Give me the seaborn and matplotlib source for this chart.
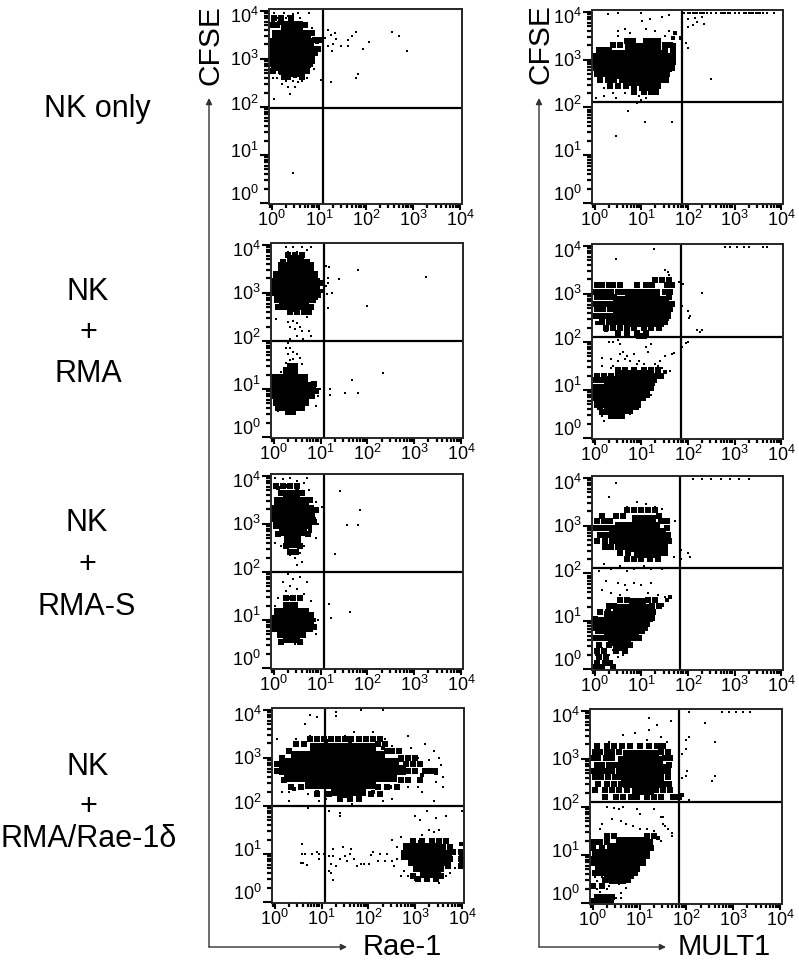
import pandas as pd
import matplotlib
matplotlib.use("Agg")
import matplotlib.pyplot as plt
from matplotlib.ticker import LogLocator, FixedFormatter, FixedLocator, NullFormatter
from matplotlib.transforms import ScaledTranslation
import seaborn as sns

# all values are read off the picture, as log10 of fluorescence
# *_core: dense part of a population, {log y: [log x, ...]}
# *_speck: speckled part, same layout, *_patch / *_dots: small clumps and single events, (log x, log y)

l1_core = {3.68: [.3, .45, .55], 3.5: [.12, .27, .42, .57, .72], 3.33: [.03, .18, .33, .48, .63, .78], 3.16: [0, .15, .3, .45, .6, .75, .87],
           3.0: [0, .15, .3, .45, .6, .75, .82], 2.85: [.12, .27, .42, .57, .68], 2.72: [.35, .5, .6]}
l1_speck = {3.85: [.05, .2, .4], 3.7: [0, .12, .7], 3.55: [.85], 3.4: [.92, 1.0], 3.2: [.98], 2.9: [0, .82], 2.75: [.02, .2, .75], 2.62: [.25, .35, .65]}
l1_patch = [(.02, 3.8), (.15, 3.75), (.8, 3.55), (.95, 3.35), (.93, 3.1), (.03, 2.8), (.2, 2.7), (.5, 2.65), (.6, 2.68), (1.0, 3.42), (.8, 2.85)]
l1_dots = [(.45, .62), (.04, 2.17), (.39, 2.26), (.21, 2.47), (.35, 2.42), (.49, 2.42), (1.26, 2.51), (1.05, 2.57), (1.79, 2.6),
           (1.84, 2.69), (2.87, 3.17), (2.55, 3.56), (2.7, 3.47), (2.06, 3.35), (1.93, 3.21), (1.79, 3.56), (1.7, 3.47), (1.61, 3.39),
           (1.61, 3.26), (1.48, 3.26), (1.37, 3.42), (1.3, 3.31), (1.28, 3.16), (1.2, 3.26), (1.2, 3.61), (1.13, 3.44), (1.26, 3.49),
           (1.35, 3.53), (.05, 3.95), (.25, 3.95), (.35, 3.9), (.55, 3.95), (.8, 3.95), (.1, 3.85), (.3, 3.85), (.45, 3.93), (.7, 3.7),
           (.85, 3.65), (.6, 3.85), (.2, 3.9), (.12, 2.6), (.3, 2.55), (.45, 2.55), (.55, 2.52), (.65, 2.55), (.75, 2.6), (.9, 2.8), (.02, 2.6)]

l2_core = {3.68: [.38, .53], 3.53: [.2, .35, .5, .65, .75], 3.36: [.08, .23, .38, .53, .68, .83], 3.2: [.03, .18, .33, .48, .63, .78, .88],
           3.05: [.03, .18, .33, .48, .63, .78, .88], 2.9: [.12, .27, .42, .57, .72, .8], 2.75: [.25, .4, .55, .65],
           1.35: [.3, .42], 1.2: [.05, .2, .35, .5, .62], 1.05: [-.03, .12, .27, .42, .57, .72, .78], .9: [-.03, .12, .27, .42, .57, .72, .78],
           .75: [.1, .25, .4, .55, .65], .65: [.25, .4, .5]}
l2_speck = {3.8: [.3, .45, .6], 3.65: [.2, .7], 3.2: [0, 1.0], 2.95: [.95], 2.7: [.1, .8], 2.6: [.35, .5, .65, .75], 1.48: [.35, .45], 1.1: [.85], .95: [.9], .6: [.1, .6], .52: [.3, .4]}
l2_patch = [(.05, 3.3), (.95, 3.25), (1.0, 3.05), (.9, 2.9), (.15, 2.8), (.75, 2.7), (.4, 2.65), (.85, 1.05), (.8, .85), (.4, 1.45), (.3, .58), (.5, .58), (.3, 3.8)]
l2_dots = [(3.24, 3.34), (1.8, 3.47), (1.98, 2.73), (1.4, 3.3), (1.16, 2.69), (1.18, 3.53), (1.11, 3.56), (1.15, 3.32), (1.16, 3.2),
           (1.13, 2.97), (1.25, 2.99), (1.11, 3.15), (2.33, 1.33), (1.66, 1.19), (1.52, .92), (1.8, .92), (1.2, 1.01), (1.2, .88),
           (.25, 3.95), (.4, 3.95), (.6, 3.95), (.8, 3.95), (.3, 3.85), (.7, 3.9), (.5, 3.85), (.05, 2.45), (.3, 2.4), (.4, 2.42), (.5, 2.38),
           (.55, 2.3), (.45, 2.25), (.35, 2.3), (.6, 2.2), (.75, 2.2), (.8, 2.1), (.35, 2.05), (.5, 2.1), (.62, 2.05), (.3, 1.95),
           (.35, 1.85), (.25, 1.85), (.4, 1.78), (.3, 1.72), (.5, 1.72), (.55, 1.65), (.35, 1.6), (.42, 1.62), (.25, 1.55), (.6, 1.52),
           (.15, 1.35), (.02, 1.25), (.95, .85), (.98, 1.0), (.9, .65), (.05, .62), (.1, .55), (.4, .5), (.6, 2.6), (.7, 2.5)]

l3_core = {3.6: [.3, .45], 3.45: [.12, .27, .42, .57, .65], 3.3: [.03, .18, .33, .48, .63, .75], 3.15: [.03, .18, .33, .48, .63, .78],
           3.0: [.1, .25, .4, .55, .7], 2.85: [.22, .37, .52, .6], 2.7: [.33, .48], 2.6: [.42], 1.28: [.3, .42], 1.15: [.12, .27, .42, .57, .65],
           1.0: [.03, .18, .33, .48, .63, .75], .85: [.03, .18, .33, .48, .63, .72], .72: [.18, .33, .48, .58], .62: [.3, .45]}
l3_speck = {3.8: [.05, .2, .35, .5], 3.65: [.15, .6], 3.5: [.78], 3.3: [.9], 3.05: [.85], 2.8: [.1, .72], 2.55: [.25, .55], 2.42: [.35, .48], 1.45: [.25, .4, .55], 1.1: [.8], .85: [.85], .55: [.15, .55]}
l3_patch = [(.1, 3.75), (.3, 3.8), (.5, 3.75), (.85, 3.1), (.78, 2.85), (.85, 1.0), (.8, .85), (.35, 1.45), (.35, 2.55), (.5, 2.55)]
l3_dots = [(1.42, 3.69), (1.83, 3.29), (1.57, 2.98), (1.79, 2.98), (1.3, 2.37), (1.62, 1.17), (1.23, 1.04), (1.17, 1.33), (.02, 3.95),
           (.2, 3.93), (.35, 3.95), (.5, 3.9), (.7, 3.95), (.65, 3.85), (.75, 3.7), (.9, 3.45), (.95, 3.25), (1.03, 3.35), (.95, 3.0),
           (.9, 2.7), (.65, 2.55), (.55, 2.4), (.45, 2.3), (.35, 2.35), (.6, 2.2), (.02, 2.6), (.15, 2.55), (.5, 2.15), (.3, 1.95),
           (.4, 1.85), (.55, 1.9), (.7, 1.8), (.2, 1.8), (.35, 1.7), (.5, 1.65), (.25, 1.6), (.65, 1.55), (.1, 1.45), (.95, 1.0),
           (.9, .7), (.2, .55), (.45, .5), (.6, .55), (.02, 1.3), (.8, 1.4)]

l4_core = {3.2: [.85, 1.0, 1.15, 1.3, 1.45, 1.6, 1.75, 1.9, 2.05], 3.05: [.45, .6, .75, .9, 1.05, 1.2, 1.35, 1.5, 1.65, 1.8, 1.95, 2.1, 2.25],
           2.9: [.2, .35, .5, .65, .8, .95, 1.1, 1.25, 1.4, 1.55, 1.7, 1.85, 2, 2.15, 2.3, 2.45, 2.55],
           2.75: [.2, .35, .5, .65, .8, .95, 1.1, 1.25, 1.4, 1.55, 1.7, 1.85, 2, 2.15, 2.3, 2.45, 2.6, 2.7],
           2.6: [.3, .45, .6, .75, .9, 1.05, 1.2, 1.35, 1.5, 1.65, 1.8, 1.95, 2.1, 2.25, 2.4, 2.5], 2.45: [.75, .9, 1.05, 1.2, 1.35, 1.5, 1.65, 1.8, 1.95, 2.05],
           2.32: [1.3, 1.45, 1.6, 1.75, 1.85], 1.12: [2.85, 3.0, 3.15, 3.3, 3.45], .98: [2.8, 2.95, 3.1, 3.25, 3.4, 3.55, 3.68], .85: [2.95, 3.1, 3.25, 3.4, 3.55, 3.65],
           .72: [3.05, 3.2, 3.35, 3.5], .6: [3.2, 3.35, 3.45]}
l4_speck = {3.4: [.75, .9, 1.05, 1.2, 1.35, 1.5, 1.62, 1.8, 1.95, 2.1, 2.25], 3.3: [.45, .62, 2.2, 2.35], 3.15: [.3, 2.4, 2.5, 2.65], 3.0: [.15, 2.7, 2.85, 3.0],
           2.88: [.05, 2.8, 2.95, 3.1], 2.72: [.05, 2.85, 3.0, 3.2, 3.3, 3.42], 2.55: [.2, 2.7, 2.85, 3.1], 2.4: [.35, .55, 2.2, 2.4, 2.6], 2.25: [.9, 1.15, 2.05, 2.25],
           2.15: [1.4, 1.6, 1.8], 1.28: [2.95, 3.15, 3.35, 3.5, 3.65], 1.15: [3.6, 3.75], 1.05: [3.8, 3.98], .9: [3.75, 3.98], .75: [3.7, 3.98], .55: [2.95, 3.55], .48: [3.05, 3.25, 3.45]}
l4_patch = [(.1, 2.7), (1.1, 3.35), (1.6, 3.35), (2.3, 3.2), (2.7, 2.95), (2.8, 2.7), (.4, 2.35), (.9, 2.3), (2.1, 2.3), (2.45, 2.4), (1.5, 2.2),
            (3.98, 1.2), (3.98, 1.0), (3.98, .85), (3.75, .95), (3.1, 1.25), (3.5, 1.22), (3.0, 2.75), (3.15, 2.65), (3.3, 2.7), (3.45, 2.68)]
l4_dots = [(.75, 3.9), (.65, 3.7), (.9, 3.85), (1.3, 3.95), (1.3, 3.88), (1.85, 4.0), (2.3, 4.0), (.05, 3.4), (.45, 3.4), (.75, 3.45), (1.0, 3.35),
           (1.5, 3.45), (1.7, 3.55), (2.1, 3.55), (2.35, 3.4), (2.85, 3.45), (2.5, 3.25), (2.9, 3.2), (3.05, 3.0), (3.2, 3.3), (3.4, 3.15),
           (3.3, 2.95), (3.5, 3.0), (3.55, 2.85), (3.6, 2.6), (3.6, 2.4), (3.45, 2.5), (2.85, 2.4), (3.15, 2.3), (3.4, 2.1), (3.05, 2.4),
           (2.5, 2.15), (2.3, 2.1), (1.65, 2.05), (.3, 2.1), (.15, 2.3), (.3, 2.3), (.7, 2.25), (.95, 2.1), (1.1, 2.15), (.7, 1.95), (1.15, 1.9),
           (1.4, 1.85), (1.4, 1.8), (3.0, 1.8), (3.25, 1.9), (3.45, 1.75), (3.65, 1.8), (4.0, 1.9), (3.1, 1.7), (3.3, 1.5), (3.4, 1.45),
           (3.5, 1.5), (3.15, 1.4), (2.7, 1.35), (2.5, 1.3), (2.4, 1.0), (2.6, 1.15), (.58, 1.2), (.58, 1.0), (.6, .82), (.55, .82), (.68, .78),
           (.65, 1.0), (.8, 1.0), (.9, 1.05), (.95, .9), (.95, 1.0), (1.05, 1.0), (1.15, .95), (1.25, 1.1), (1.25, .95), (1.2, .8), (1.3, .75),
           (1.4, .9), (1.45, 1.15), (1.5, .95), (1.55, .85), (1.6, 1.0), (1.63, 1.1), (1.7, .9), (1.75, .75), (1.85, .8), (1.9, .8), (1.15, .65),
           (1.2, .6), (1.25, .45), (2.02, .8), (2.05, .98), (2.1, 1.05), (2.2, .85), (2.25, 1.0), (2.35, .85), (2.5, .85), (2.55, .75),
           (2.6, .9), (2.75, .65), (2.7, .55), (2.85, .55), (2.95, .5), (3.0, .45), (3.2, .45), (3.45, .45), (3.5, .4), (3.65, .55), (3.75, .6), (3.85, .7)]

r1_core = {3.25: [.75, .9, 1.05, 1.2, 1.32], 3.1: [.4, .55, .7, .85, 1, 1.15, 1.3, 1.42], 2.97: [.3, .45, .6, .75, .9, 1.05, 1.2, 1.35, 1.5, 1.58],
           2.84: [.4, .55, .7, .85, 1, 1.15, 1.3, 1.45, 1.55], 2.7: [.55, .7, .85, 1, 1.15, 1.3, 1.45], 2.56: [.85, 1.0, 1.15, 1.3], 2.45: [1.05, 1.2]}
r1_speck = {3.4: [.7, .82, 1.1, 1.22, 1.35], 3.3: [.4, .55, 1.5, 1.62], 3.2: [.08, .2, .3, 1.5, 1.68], 3.08: [0, .12, .25, 1.58, 1.68], 2.95: [0, .1, .2, 1.68],
           2.82: [.02, .12, .25, 1.65], 2.7: [.05, .18, .3, .42, 1.55], 2.58: [.12, .28, .42, .58, .72, 1.42, 1.52], 2.45: [.32, .5, .68, .85, 1.35], 2.33: [.85, 1.05, 1.2, 1.32]}
r1_patch = [(1.68, 3.45), (1.85, 3.45), (1.7, 3.3), (1.72, 3.55)]
r1_dots = [(1.92, 3.97), (2.0, 3.97), (2.1, 3.97), (2.2, 3.97), (2.3, 3.97), (2.4, 3.97), (2.5, 3.97), (2.6, 3.97), (2.7, 3.97), (2.8, 3.97), (2.9, 3.97),
           (3.0, 3.97), (3.1, 3.97), (3.2, 3.97), (3.3, 3.97), (3.4, 3.97), (3.5, 3.97), (3.6, 3.97), (3.7, 3.97), (3.85, 3.97), (2.05, 3.97), (2.15, 3.97),
           (2.25, 3.97), (2.35, 3.97), (2.75, 3.97), (2.85, 3.97), (3.25, 3.97), (3.35, 3.97), (3.45, 3.97), (3.55, 3.97),
           (.28, 3.95), (.5, 3.97), (.65, 3.65), (1.0, 3.97), (1.02, 3.8), (1.1, 3.65), (1.18, 3.85), (1.45, 3.9), (1.6, 3.93), (1.6, 3.6), (1.3, 3.6),
           (1.5, 3.5), (.5, 3.6), (.5, 3.5), (.75, 3.55), (2.0, 3.85), (2.1, 3.72), (2.15, 3.88), (2.2, 3.78), (2.3, 3.9), (2.35, 3.75), (2.0, 3.68),
           (1.95, 3.35), (2.0, 3.25), (2.5, 2.6), (.72, 1.93), (.2, 2.25), (.4, 2.3), (.45, 2.2), (.2, 2.4), (.65, 2.3), (.95, 2.25), (1.0, 2.15),
           (1.1, 2.2), (.9, 2.1), (1.2, 2.3), (1.25, 2.55), (.03, 2.2), (.45, 1.4), (1.07, 1.7), (1.65, 1.7)]

r2_core = {3.0: [.75, .95, 1.15, 1.3], 2.85: [.5, .7, .9, 1.05, 1.2, 1.35, 1.48], 2.7: [.5, .65, .8, .95, 1.1, 1.25, 1.4, 1.52],
           2.55: [.6, .75, .9, 1.05, 1.2, 1.35, 1.48], 2.42: [.8, 1.0, 1.15, 1.3, 1.38], 1.32: [.55, .7, .85, 1.0, 1.15], 1.18: [.3, .45, .6, .75, .9, 1.05, 1.18],
           1.03: [.02, .15, .3, .45, .6, .75, .9, 1.08], .88: [-.03, .12, .27, .42, .57, .72, .87, 1.0], .73: [.1, .25, .4, .55, .7, .88], .6: [.3, .45, .6, .72], .5: [.4, .55]}
r2_speck = {3.3: [1.3, 1.45, 1.6], 3.18: [.05, .15, .3, .4, .55, .9, 1.1, 1.22, 1.55, 1.65], 3.05: [0, .12, .25, .35, .5, .62, 1.5, 1.62], 2.93: [.05, .18, .3, .42, 1.6], 2.8: [0, .1, .22, .35, 1.65],
            2.68: [.05, .18, .32, 1.62], 2.55: [.02, .12, .25, .38, .48, 1.58], 2.42: [.15, .3, .42, .55, .65, 1.5], 2.3: [.25, .4, .55, .7, .85, 1.05, 1.2, 1.38],
            2.18: [.5, .7, .9, 1.1], 2.12: [.95, .98, 1.05], 1.42: [.5, .65, .85, 1.05, 1.2, 1.35], 1.3: [.05, .2, .35, 1.3, 1.42], 1.2: [.02, .15, 1.28], 1.05: [1.2], .9: [1.12], .65: [.12, .88], .55: [.15, .22]}
r2_patch = [(.25, 2.25), (.05, 2.4), (1.2, 1.35), (1.35, 1.35), (1.5, 1.38)]
r2_dots = [(2.8, 3.97), (2.9, 3.97), (3.05, 3.97), (3.2, 3.97), (3.3, 3.97), (3.6, 3.97), (3.7, 3.97), (1.28, 3.93), (.45, 3.72), (1.88, 2.75), (2.0, 2.65),
           (2.02, 2.5), (2.05, 2.55), (2.3, 2.25), (2.4, 2.1), (2.0, 2.1), (2.3, 3.03), (1.9, 3.2), (1.8, 3.25), (2.25, 2.2), (2.2, 2.25), (1.95, 1.98),
           (2.0, 2.0), (1.87, 1.9), (1.85, 1.8), (1.6, 3.4), (1.5, 3.5), (1.57, 3.45), (1.65, 1.75), (1.7, 1.78), (1.5, 1.7), (1.62, 1.4), (.5, 2.05), (.4, 2.0),
           (.3, 2.0), (.55, 1.95), (.6, 1.8), (.55, 1.75), (.65, 1.65), (.7, 1.7), (.85, 1.75), (.95, 1.6), (1.05, 1.55), (1.2, 1.95), (1.15, 1.8), (1.1, 1.9),
           (.15, 1.67), (.15, 1.5), (.35, 1.65), (.4, 1.5), (.35, 1.45), (.5, 1.6), (.75, 1.6), (.9, 1.55), (1.35, 1.5), (1.45, 1.45), (1.3, 1.55),
           (1.4, 1.6), (.2, .5), (.15, .45), (.2, .35), (.45, .45), (.75, .5), (1.2, .9), (1.25, 1.1)]

r3_core = {3.12: [.9, 1.05, 1.2], 2.98: [.55, .7, .85, 1.0, 1.15, 1.3], 2.84: [.42, .57, .72, .87, 1.02, 1.17, 1.32, 1.42], 2.7: [.55, .7, .85, 1.0, 1.15, 1.3, 1.45],
           2.56: [.75, .9, 1.05, 1.2, 1.35], 2.42: [.95, 1.1, 1.25], 1.38: [.85, 1.0], 1.25: [.5, .65, .8, .95, 1.1], 1.12: [.3, .45, .6, .75, .9, 1.05, 1.18],
           .98: [.05, .2, .35, .5, .65, .8, .95, 1.08], .84: [.12, .27, .42, .57, .72, .87, .97], .7: [.3, .45, .6, .75, .85], .58: [.4, .55, .68], .48: [.5, .6]}
r3_speck = {3.32: [.7, .85, 1.0, 1.15, 1.3], 3.2: [.15, .45, .6, 1.38], 3.1: [.05, .2, .32, 1.42, 1.55], 2.95: [.02, .15, .28, .4, 1.55], 2.8: [.12, .25, 1.58], 2.68: [.05, .22, .38, 1.6],
            2.55: [.22, .35, .5, .62, 1.5], 2.42: [.55, .72, 1.4, 1.5], 2.3: [.7, .85, 1.0, 1.18, 1.35], 1.45: [.55, .7, 1.15, 1.3], 1.32: [.3, .42, 1.22, 1.38], 1.2: [.12, .28, 1.25], 1.05: [.0, 1.18],
            .85: [0, 1.08], .65: [.02, .15, .95], .5: [.1, .3, .75], .38: [.05, .2, .45, .65], .25: [.1, .25], .12: [.05, .22, .32], .05: [.02, .15, .4]}
r3_patch = [(1.25, 1.35), (1.45, 1.35), (1.55, 1.45), (1.62, 1.5)]
r3_dots = [(2.1, 3.97), (2.3, 3.97), (2.5, 3.97), (2.7, 3.97), (2.9, 3.97), (3.1, 3.97), (3.3, 3.97), (1.85, 2.5), (1.85, 2.3), (2.0, 2.42), (2.05, 2.35),
           (1.7, 2.35), (1.72, 3.1), (.7, 3.4), (.9, 3.5), (1.1, 3.45), (.45, 3.9), (.3, 3.6), (1.3, 3.4), (1.45, 3.35), (.2, 2.2), (.35, 2.1), (.55, 2.15),
           (.7, 2.05), (.85, 2.1), (1.05, 2.15), (1.2, 2.1), (1.45, 2.1), (.1, 2.05), (.25, 1.85), (.5, 1.8), (.65, 1.75), (.85, 1.8), (1.0, 1.75), (1.2, 1.8),
           (.15, 1.65), (.35, 1.6), (.55, 1.55), (.7, 1.65), (1.15, 1.6), (1.35, 1.55), (1.5, 1.5), (.02, .8), (.05, .6), (.02, .3), (.1, .55), (.15, .45),
           (.25, .4), (.3, .3), (.25, .1), (.02, .1), (.4, .4), (.5, .25), (.6, .3), (.1, .08), (.35, .15)]

r4_core = {3.08: [.75, .9, 1.05, 1.2, 1.3], 2.95: [.65, .8, .95, 1.1, 1.25, 1.4], 2.8: [.6, .75, .9, 1.05, 1.2, 1.35, 1.5], 2.65: [.7, .85, 1.0, 1.15, 1.3, 1.42],
           2.5: [.75, .95, 1.1, 1.25, 1.35], 2.36: [.95, 1.1, 1.2], 1.28: [.6, .75, .9, 1.05], 1.15: [.4, .55, .7, .85, 1.0, 1.12],
           1.02: [.1, .25, .4, .55, .7, .85, 1.0, 1.12], .88: [-.02, .12, .27, .42, .57, .72, .87, 1.02], .74: [.15, .3, .45, .6, .75, .9], .6: [.35, .5, .65, .78], .5: [.45, .6]}
r4_speck = {3.28: [.1, .3, .45, .62, .8, 1.0, 1.2, 1.38, 1.5], 3.15: [.05, .15, .3, .42, .55, 1.45, 1.6], 3.02: [.02, .12, .28, .42, 1.55, 1.65], 2.88: [.08, .2, .35, .48, 1.62], 2.75: [.02, .15, .28, .42, 1.6],
            2.62: [.05, .18, .32, .48, .58, 1.6], 2.48: [.12, .3, .45, .6, 1.5, 1.62], 2.35: [.05, .25, .42, .55, .72, 1.35, 1.5, 1.65], 2.2: [.25, .5, .65, .82, .95, 1.15, 1.3, 1.45, 1.72, 1.85],
            1.4: [.3, .45, 1.15, 1.3], 1.28: [.02, .15, .3, 1.22], 1.15: [0, .2, 1.25], .62: [.05, .18, .9], .48: [.25, .38, .75], .35: [.0, .2], .12: [.1, .2, .3, .42], .05: [0, .12, .22, .32, .38]}
r4_patch = [(1.75, 2.2), (1.9, 2.25), (1.4, 1.35)]
r4_dots = [(1.2, 3.85), (1.38, 3.7), (1.67, 3.8), (2.05, 3.97), (2.75, 3.97), (2.9, 3.97), (3.05, 3.97), (3.2, 3.97), (3.35, 3.97), (2.4, 3.75), (2.6, 3.35),
           (2.55, 2.55), (2.6, 2.65), (2.0, 3.4), (2.05, 3.45), (1.85, 3.35), (2.0, 3.2), (1.9, 3.1), (2.02, 2.75), (2.0, 2.65), (1.9, 2.6), (2.05, 2.15),
           (1.85, 2.2), (.65, 3.5), (.75, 3.3), (.9, 3.55), (1.15, 3.4), (1.2, 3.6), (.35, 3.35), (1.45, 3.45), (1.58, 3.35), (1.5, 1.8), (.3, 2.0),
           (.45, 1.98), (.55, 1.95), (.65, 2.0), (.95, 1.95), (1.1, 2.1), (1.3, 1.95), (1.0, 1.85), (.4, 1.75), (.2, 1.65), (.15, 1.55), (.6, 1.7), (.7, 1.65),
           (.85, 1.6), (1.0, 1.55), (1.15, 1.55), (1.45, 1.8), (1.5, 1.65), (1.55, 1.6), (1.3, 1.5), (1.35, 1.4), (1.6, 1.55), (1.7, 1.45), (1.45, 1.3), (1.7, 1.4),
           (1.15, 1.4), (.05, .95), (.05, .55), (.1, .45), (.2, .55), (.3, .3), (.1, .3), (.35, .35), (.6, .2), (.55, .4), (.35, .15), (.5, .1), (.6, .1), (.7, .32), (.15, .22)]

panels = [
    {"core": l1_core, "speck": l1_speck, "patch": l1_patch, "dots": l1_dots, "frame": (269, 462, 9, 204), "gate": (1.08, 1.98)},
    {"core": r1_core, "speck": r1_speck, "patch": r1_patch, "dots": r1_dots, "frame": (592, 783, 10, 204), "gate": (1.87, 2.11)},
    {"core": l2_core, "speck": l2_speck, "patch": l2_patch, "dots": l2_dots, "frame": (271, 463, 243, 438), "gate": (1.08, 2.0)},
    {"core": r2_core, "speck": r2_speck, "patch": r2_patch, "dots": r2_dots, "frame": (592, 783, 244, 439), "gate": (1.85, 2.1)},
    {"core": l3_core, "speck": l3_speck, "patch": l3_patch, "dots": l3_dots, "frame": (271, 463, 474, 669), "gate": (1.08, 2.0)},
    {"core": r3_core, "speck": r3_speck, "patch": r3_patch, "dots": r3_dots, "frame": (592, 783, 476, 670), "gate": (1.83, 2.12)},
    {"core": l4_core, "speck": l4_speck, "patch": l4_patch, "dots": l4_dots, "frame": (272, 464, 708, 903), "gate": (1.08, 2.0)},
    {"core": r4_core, "speck": r4_speck, "patch": r4_patch, "dots": r4_dots, "frame": (590, 782, 709, 904), "gate": (1.83, 2.1)},
]

row_labels = [("NK only", 97, 109), ("NK", 88, 292), ("+", 88, 333), ("RMA", 88, 374), ("NK", 87, 523), ("+", 87, 565), ("RMA-S", 87, 607),
              ("NK", 88, 767), ("+", 88, 807), ("RMA/Rae-1δ", 89, 839)]
tick_vals = [1, 10, 100, 1000, 10000]
tick_text = [r"$10^{0}$", r"$10^{1}$", r"$10^{2}$", r"$10^{3}$", r"$10^{4}$"]
y_label_shift = [10, 5, 4, 1, -4]  # pixels up, the labels sit off their ticks in the original

W, H = 799, 968

sns.set_style("ticks")
plt.rcParams["font.family"] = ["Liberation Sans", "DejaVu Sans"]
plt.rcParams["mathtext.default"] = "regular"
plt.rcParams["axes.linewidth"] = 1.4
plt.rcParams["text.color"] = "black"
plt.rcParams["xtick.labelcolor"] = "black"
plt.rcParams["ytick.labelcolor"] = "black"


def to_df(points):
    df = pd.DataFrame(points, columns=["x", "y"])
    return 10 ** df


def rows_to_points(rows):
    return [(x, y) for y, xs in rows.items() for x in xs]


fig = plt.figure(figsize=(W / 100, H / 100), dpi=100)

for p in panels:
    x0, x1, y0, y1 = p["frame"]
    ax = fig.add_axes([x0 / W, 1 - y1 / H, (x1 - x0) / W, (y1 - y0) / H])
    sns.scatterplot(data=to_df(rows_to_points(p["core"])), x="x", y="y", marker="s", s=62, color="black", linewidth=0, ax=ax)
    sns.scatterplot(data=to_df(rows_to_points(p["speck"])), x="x", y="y", marker="s", s=20, color="black", linewidth=0, ax=ax)
    sns.scatterplot(data=to_df(p["patch"]), x="x", y="y", marker="s", s=8, color="black", linewidth=0, ax=ax)
    sns.scatterplot(data=to_df(p["dots"]), x="x", y="y", marker="s", s=4, color="black", linewidth=0, ax=ax)
    ax.set_xscale("log")
    ax.set_yscale("log")
    ax.set_xlim(10 ** -0.06, 10 ** 4.04)
    ax.set_ylim(10 ** -0.02, 10 ** 4.04)
    ax.axvline(10 ** p["gate"][0], color="black", lw=1.6)
    ax.axhline(10 ** p["gate"][1], color="black", lw=1.6)
    ax.set_xlabel("")
    ax.set_ylabel("")
    for axis in (ax.xaxis, ax.yaxis):
        axis.set_major_locator(FixedLocator(tick_vals))
        axis.set_major_formatter(FixedFormatter(tick_text))
        axis.set_minor_locator(LogLocator(base=10, subs=range(2, 10), numticks=12))
        axis.set_minor_formatter(NullFormatter())
    ax.tick_params(axis="x", which="major", length=4.5, width=1.5, pad=0, labelsize=13, color="black")
    ax.tick_params(axis="y", which="major", length=6.5, width=1.5, pad=1, labelsize=13, color="black")
    ax.tick_params(axis="x", which="minor", length=2.8, width=1.6, color="black")
    ax.tick_params(axis="y", which="minor", length=3.8, width=1.6, color="black")
    fig.canvas.draw()
    for lab, shift in zip(ax.get_yticklabels(), y_label_shift):
        lab.set_transform(lab.get_transform() + ScaledTranslation(0, shift / 100, fig.dpi_scale_trans))

# overlay in figure pixels for the axis arrows and big labels
over = fig.add_axes([0, 0, 1, 1], facecolor="none")
over.set_xlim(0, W)
over.set_ylim(H, 0)
over.axis("off")
for ax_x, top, end in [(209, 98, 347), (539, 98, 666)]:
    arrow = dict(arrowstyle="-|>", color="#333333", lw=1, mutation_scale=9, shrinkA=0, shrinkB=0)
    over.annotate("", xy=(ax_x, top), xytext=(ax_x, 947), arrowprops=arrow)
    over.annotate("", xy=(end, 947), xytext=(ax_x, 947), arrowprops=arrow)

over.text(211, 45, "CFSE", rotation=90, ha="center", va="center", fontsize=21.5)
over.text(541, 44, "CFSE", rotation=90, ha="center", va="center", fontsize=21.5)
over.text(402, 947, "Rae-1", ha="center", va="center", fontsize=21)
over.text(724, 947, "MULT1", ha="center", va="center", fontsize=21)
for label, lx, ly in row_labels:
    over.text(lx, ly, label, ha="center", va="center", fontsize=22)

fig.savefig("out.png", dpi=100)
